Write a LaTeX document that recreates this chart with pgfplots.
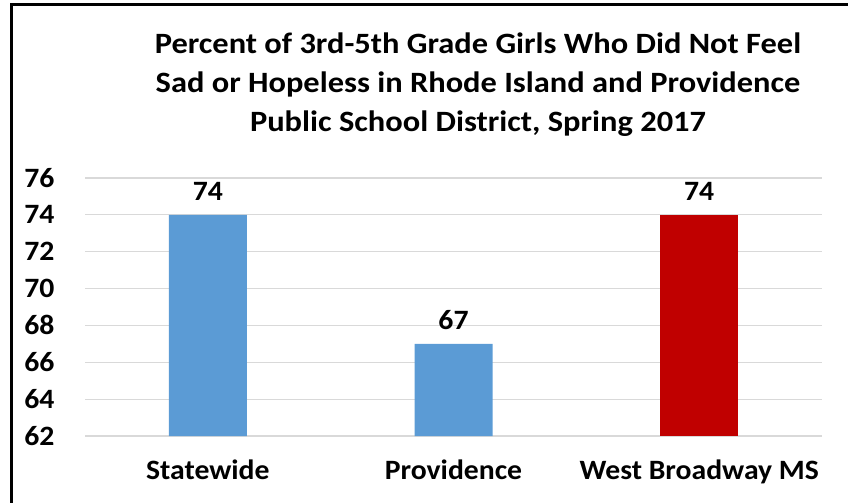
\documentclass[border=0pt]{standalone}
\usepackage{fontspec}
\setmainfont{Carlito}[FakeStretch=1.06]
\newfontfamily\titlefont{Carlito}[FakeStretch=1.1]
\usepackage{pgfplots}
\pgfplotsset{compat=1.18}
\definecolor{barblue}{HTML}{5B9BD5}
\definecolor{barred}{HTML}{C00000}
\definecolor{gridgray}{HTML}{D9D9D9}
\begin{document}
\begin{tikzpicture}
\path[use as bounding box] (0,0) rectangle (848bp,503bp);
\draw[line width=3bp] (11bp,0) -- (11bp,498bp) -- (848bp,498bp);
\node[align=center, font=\titlefont\fontsize{29.5bp}{39bp}\selectfont\bfseries, anchor=north, inner sep=0pt] at (478bp,470bp)
  {Percent of 3rd-5th Grade Girls Who Did Not Feel\\Sad or Hopeless in Rhode Island and Providence\\Public School District, Spring 2017};
\begin{axis}[
  at={(85bp,67bp)}, anchor=south west,
  scale only axis, width=737bp, height=258bp,
  xmin=-0.5, xmax=2.5, ymin=62, ymax=76,
  ytick={62,64,...,76},
  xtick={0,1,2},
  xticklabels={Statewide,Providence,West Broadway MS},
  axis line style={draw=none},
  major tick length=0pt,
  ymajorgrids, grid style={gridgray, line width=1.2bp},
  /pgf/number format/assume math mode=true,
  ticklabel style={font=\fontsize{28bp}{32bp}\selectfont\bfseries},
  yticklabel style={xshift=-27bp},
  xticklabel style={yshift=-20bp},
  ybar, bar width=78bp, bar shift=0pt,
  nodes near coords,
  nodes near coords style={font=\fontsize{28bp}{32bp}\selectfont\bfseries, yshift=11bp},
  every node near coord/.append style={/pgf/number format/assume math mode=true},
  clip=false,
]
\addplot[fill=barblue, draw=none] coordinates {(0,74) (1,67)};
\addplot[fill=barred, draw=none] coordinates {(2,74)};
\end{axis}
\end{tikzpicture}
\end{document}
